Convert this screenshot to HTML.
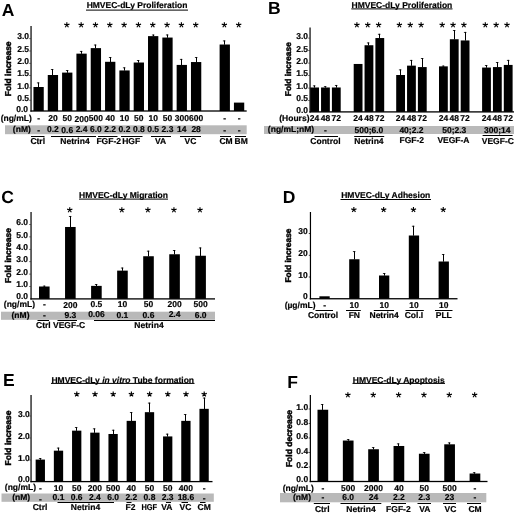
<!DOCTYPE html>
<html>
<head>
<meta charset="utf-8">
<title>HMVEC-dLy figure</title>
<style>
html,body{margin:0;padding:0;background:#fff;}
body{width:520px;height:514px;overflow:hidden;}
svg{display:block;filter:grayscale(1) blur(0.35px);text-rendering:geometricPrecision;font-family:"Liberation Sans",sans-serif;fill:#000;}
</style>
</head>
<body>
<svg width="520" height="514" viewBox="0 0 520 514">
<rect x="0" y="0" width="520" height="514" fill="#fff"/>
<text x="1.76" y="15.90" font-size="17.5" font-weight="bold">A</text>
<text x="137.00" y="8.42" font-size="8.5" text-anchor="middle" font-weight="bold" stroke="#000" stroke-width="0.18" >HMVEC-dLy Proliferation</text>
<rect x="86.00" y="9.60" width="102.00" height="1.00" fill="#000"/>
<rect x="30.45" y="26.00" width="1.20" height="85.65" fill="#000"/>
<rect x="30.35" y="110.35" width="216.35" height="1.30" fill="#000"/>
<rect x="29.40" y="38.30" width="1.10" height="0.80" fill="#000"/>
<rect x="29.40" y="50.60" width="1.10" height="0.80" fill="#000"/>
<rect x="29.40" y="62.90" width="1.10" height="0.80" fill="#000"/>
<rect x="29.40" y="75.20" width="1.10" height="0.80" fill="#000"/>
<rect x="29.40" y="87.50" width="1.10" height="0.80" fill="#000"/>
<rect x="29.40" y="99.80" width="1.10" height="0.80" fill="#000"/>
<text x="28.00" y="112.22" font-size="8.5" text-anchor="end" font-weight="bold" stroke="#000" stroke-width="0.18" >0.0</text>
<text x="29.00" y="100.92" font-size="8.5" text-anchor="end" font-weight="bold" stroke="#000" stroke-width="0.18" >0.5</text>
<text x="29.00" y="88.62" font-size="8.5" text-anchor="end" font-weight="bold" stroke="#000" stroke-width="0.18" >1.0</text>
<text x="29.00" y="76.32" font-size="8.5" text-anchor="end" font-weight="bold" stroke="#000" stroke-width="0.18" >1.5</text>
<text x="29.00" y="64.02" font-size="8.5" text-anchor="end" font-weight="bold" stroke="#000" stroke-width="0.18" >2.0</text>
<text x="29.00" y="51.72" font-size="8.5" text-anchor="end" font-weight="bold" stroke="#000" stroke-width="0.18" >2.5</text>
<text x="29.00" y="39.42" font-size="8.5" text-anchor="end" font-weight="bold" stroke="#000" stroke-width="0.18" >3.0</text>
<text transform="translate(11.06,68.80) rotate(-90)" font-size="8.5" text-anchor="middle" font-weight="bold" stroke="#000" stroke-width="0.45">Fold increase</text>
<rect x="5.00" y="125.30" width="241.70" height="8.90" fill="#b9b9b9"/>
<text x="31.80" y="121.42" font-size="8.5" text-anchor="end" font-weight="bold" stroke="#000" stroke-width="0.18" >(ng/mL)</text>
<text x="30.80" y="132.42" font-size="8.5" text-anchor="end" font-weight="bold" stroke="#000" stroke-width="0.18" >(nM)</text>
<rect x="33.45" y="87.00" width="10.30" height="24.00" fill="#000"/>
<rect x="38.00" y="82.50" width="1.00" height="4.70" fill="#000"/>
<rect x="36.90" y="82.50" width="2.50" height="0.80" fill="#000"/>
<text x="38.60" y="121.42" font-size="8.5" text-anchor="middle" font-weight="bold" stroke="#000" stroke-width="0.18" >-</text>
<text x="38.60" y="133.22" font-size="8.5" text-anchor="middle" font-weight="bold" stroke="#000" stroke-width="0.18" >-</text>
<rect x="47.77" y="75.00" width="10.30" height="36.00" fill="#000"/>
<rect x="52.00" y="69.00" width="1.00" height="6.20" fill="#000"/>
<rect x="50.90" y="69.00" width="2.50" height="0.80" fill="#000"/>
<text x="52.92" y="121.42" font-size="8.5" text-anchor="middle" font-weight="bold" stroke="#000" stroke-width="0.18" >20</text>
<text x="52.92" y="132.42" font-size="8.5" text-anchor="middle" font-weight="bold" stroke="#000" stroke-width="0.18" >0.2</text>
<rect x="62.09" y="72.60" width="10.30" height="38.40" fill="#000"/>
<rect x="67.00" y="70.10" width="1.00" height="2.70" fill="#000"/>
<rect x="65.90" y="70.10" width="2.50" height="0.80" fill="#000"/>
<path d="M66.84 25.00L66.84 22.25M66.84 25.00L69.46 24.15M66.84 25.00L68.46 27.22M66.84 25.00L65.22 27.22M66.84 25.00L64.22 24.15" stroke="#000" stroke-width="1.15" fill="none"/>
<text x="67.24" y="121.42" font-size="8.5" text-anchor="middle" font-weight="bold" stroke="#000" stroke-width="0.18" >50</text>
<text x="67.24" y="133.22" font-size="8.5" text-anchor="middle" font-weight="bold" stroke="#000" stroke-width="0.18" >0.6</text>
<rect x="76.41" y="53.64" width="10.30" height="57.36" fill="#000"/>
<rect x="81.00" y="50.94" width="1.00" height="2.90" fill="#000"/>
<rect x="79.90" y="50.94" width="2.50" height="0.80" fill="#000"/>
<path d="M81.16 25.00L81.16 22.25M81.16 25.00L83.78 24.15M81.16 25.00L82.78 27.22M81.16 25.00L79.54 27.22M81.16 25.00L78.54 24.15" stroke="#000" stroke-width="1.15" fill="none"/>
<text x="81.56" y="122.42" font-size="8.5" text-anchor="middle" font-weight="bold" stroke="#000" stroke-width="0.18" >200</text>
<text x="81.56" y="132.42" font-size="8.5" text-anchor="middle" font-weight="bold" stroke="#000" stroke-width="0.18" >2.4</text>
<rect x="90.73" y="48.12" width="10.30" height="62.88" fill="#000"/>
<rect x="95.00" y="44.62" width="1.00" height="3.70" fill="#000"/>
<rect x="93.90" y="44.62" width="2.50" height="0.80" fill="#000"/>
<path d="M95.48 25.00L95.48 22.25M95.48 25.00L98.10 24.15M95.48 25.00L97.10 27.22M95.48 25.00L93.86 27.22M95.48 25.00L92.86 24.15" stroke="#000" stroke-width="1.15" fill="none"/>
<text x="95.88" y="121.42" font-size="8.5" text-anchor="middle" font-weight="bold" stroke="#000" stroke-width="0.18" >500</text>
<text x="95.88" y="132.42" font-size="8.5" text-anchor="middle" font-weight="bold" stroke="#000" stroke-width="0.18" >6.0</text>
<rect x="105.05" y="61.80" width="10.30" height="49.20" fill="#000"/>
<rect x="110.00" y="57.10" width="1.00" height="4.90" fill="#000"/>
<rect x="108.90" y="57.10" width="2.50" height="0.80" fill="#000"/>
<path d="M109.80 25.00L109.80 22.25M109.80 25.00L112.42 24.15M109.80 25.00L111.42 27.22M109.80 25.00L108.18 27.22M109.80 25.00L107.18 24.15" stroke="#000" stroke-width="1.15" fill="none"/>
<text x="110.20" y="121.42" font-size="8.5" text-anchor="middle" font-weight="bold" stroke="#000" stroke-width="0.18" >40</text>
<text x="110.20" y="132.42" font-size="8.5" text-anchor="middle" font-weight="bold" stroke="#000" stroke-width="0.18" >2.2</text>
<rect x="119.37" y="70.44" width="10.30" height="40.56" fill="#000"/>
<rect x="124.00" y="67.44" width="1.00" height="3.20" fill="#000"/>
<rect x="122.90" y="67.44" width="2.50" height="0.80" fill="#000"/>
<path d="M124.12 25.00L124.12 22.25M124.12 25.00L126.74 24.15M124.12 25.00L125.74 27.22M124.12 25.00L122.50 27.22M124.12 25.00L121.50 24.15" stroke="#000" stroke-width="1.15" fill="none"/>
<text x="124.52" y="121.42" font-size="8.5" text-anchor="middle" font-weight="bold" stroke="#000" stroke-width="0.18" >10</text>
<text x="124.52" y="132.42" font-size="8.5" text-anchor="middle" font-weight="bold" stroke="#000" stroke-width="0.18" >0.2</text>
<rect x="133.69" y="62.52" width="10.30" height="48.48" fill="#000"/>
<rect x="138.00" y="60.02" width="1.00" height="2.70" fill="#000"/>
<rect x="136.90" y="60.02" width="2.50" height="0.80" fill="#000"/>
<path d="M138.44 25.00L138.44 22.25M138.44 25.00L141.06 24.15M138.44 25.00L140.06 27.22M138.44 25.00L136.82 27.22M138.44 25.00L135.82 24.15" stroke="#000" stroke-width="1.15" fill="none"/>
<text x="138.84" y="121.42" font-size="8.5" text-anchor="middle" font-weight="bold" stroke="#000" stroke-width="0.18" >50</text>
<text x="138.84" y="132.42" font-size="8.5" text-anchor="middle" font-weight="bold" stroke="#000" stroke-width="0.18" >0.8</text>
<rect x="148.01" y="36.12" width="10.30" height="74.88" fill="#000"/>
<rect x="153.00" y="34.62" width="1.00" height="1.70" fill="#000"/>
<rect x="151.90" y="34.62" width="2.50" height="0.80" fill="#000"/>
<path d="M152.76 25.00L152.76 22.25M152.76 25.00L155.38 24.15M152.76 25.00L154.38 27.22M152.76 25.00L151.14 27.22M152.76 25.00L150.14 24.15" stroke="#000" stroke-width="1.15" fill="none"/>
<text x="153.16" y="121.42" font-size="8.5" text-anchor="middle" font-weight="bold" stroke="#000" stroke-width="0.18" >10</text>
<text x="153.16" y="132.42" font-size="8.5" text-anchor="middle" font-weight="bold" stroke="#000" stroke-width="0.18" >0.5</text>
<rect x="162.33" y="37.56" width="10.30" height="73.44" fill="#000"/>
<rect x="167.00" y="34.56" width="1.00" height="3.20" fill="#000"/>
<rect x="165.90" y="34.56" width="2.50" height="0.80" fill="#000"/>
<path d="M167.08 25.00L167.08 22.25M167.08 25.00L169.70 24.15M167.08 25.00L168.70 27.22M167.08 25.00L165.46 27.22M167.08 25.00L164.46 24.15" stroke="#000" stroke-width="1.15" fill="none"/>
<text x="167.48" y="121.42" font-size="8.5" text-anchor="middle" font-weight="bold" stroke="#000" stroke-width="0.18" >50</text>
<text x="167.48" y="132.42" font-size="8.5" text-anchor="middle" font-weight="bold" stroke="#000" stroke-width="0.18" >2.3</text>
<rect x="176.65" y="64.92" width="10.30" height="46.08" fill="#000"/>
<rect x="181.00" y="58.92" width="1.00" height="6.20" fill="#000"/>
<rect x="179.90" y="58.92" width="2.50" height="0.80" fill="#000"/>
<path d="M181.40 25.00L181.40 22.25M181.40 25.00L184.02 24.15M181.40 25.00L183.02 27.22M181.40 25.00L179.78 27.22M181.40 25.00L178.78 24.15" stroke="#000" stroke-width="1.15" fill="none"/>
<text x="181.80" y="121.42" font-size="8.5" text-anchor="middle" font-weight="bold" stroke="#000" stroke-width="0.18" >300</text>
<text x="181.80" y="132.42" font-size="8.5" text-anchor="middle" font-weight="bold" stroke="#000" stroke-width="0.18" >14</text>
<rect x="190.97" y="62.04" width="10.30" height="48.96" fill="#000"/>
<rect x="196.00" y="57.04" width="1.00" height="5.20" fill="#000"/>
<rect x="194.90" y="57.04" width="2.50" height="0.80" fill="#000"/>
<path d="M195.72 25.00L195.72 22.25M195.72 25.00L198.34 24.15M195.72 25.00L197.34 27.22M195.72 25.00L194.10 27.22M195.72 25.00L193.10 24.15" stroke="#000" stroke-width="1.15" fill="none"/>
<text x="196.12" y="121.42" font-size="8.5" text-anchor="middle" font-weight="bold" stroke="#000" stroke-width="0.18" >600</text>
<text x="196.12" y="132.42" font-size="8.5" text-anchor="middle" font-weight="bold" stroke="#000" stroke-width="0.18" >28</text>
<rect x="219.61" y="44.52" width="10.30" height="66.48" fill="#000"/>
<rect x="224.00" y="40.52" width="1.00" height="4.20" fill="#000"/>
<rect x="222.90" y="40.52" width="2.50" height="0.80" fill="#000"/>
<path d="M224.36 25.00L224.36 22.25M224.36 25.00L226.98 24.15M224.36 25.00L225.98 27.22M224.36 25.00L222.74 27.22M224.36 25.00L221.74 24.15" stroke="#000" stroke-width="1.15" fill="none"/>
<text x="224.76" y="121.42" font-size="8.5" text-anchor="middle" font-weight="bold" stroke="#000" stroke-width="0.18" >-</text>
<text x="224.76" y="133.22" font-size="8.5" text-anchor="middle" font-weight="bold" stroke="#000" stroke-width="0.18" >-</text>
<rect x="233.93" y="102.60" width="10.30" height="8.40" fill="#000"/>
<path d="M238.68 25.00L238.68 22.25M238.68 25.00L241.30 24.15M238.68 25.00L240.30 27.22M238.68 25.00L237.06 27.22M238.68 25.00L236.06 24.15" stroke="#000" stroke-width="1.15" fill="none"/>
<text x="239.08" y="121.42" font-size="8.5" text-anchor="middle" font-weight="bold" stroke="#000" stroke-width="0.18" >-</text>
<text x="239.08" y="133.22" font-size="8.5" text-anchor="middle" font-weight="bold" stroke="#000" stroke-width="0.18" >-</text>
<rect x="31.00" y="136.00" width="13.50" height="1.00" fill="#000"/>
<text x="37.70" y="144.42" font-size="8.5" text-anchor="middle" font-weight="bold" stroke="#000" stroke-width="0.18" >Ctrl</text>
<rect x="51.00" y="136.00" width="45.00" height="1.00" fill="#000"/>
<text x="75.00" y="144.42" font-size="8.5" text-anchor="middle" font-weight="bold" stroke="#000" stroke-width="0.18" >Netrin4</text>
<rect x="98.00" y="136.00" width="19.50" height="1.00" fill="#000"/>
<text x="108.70" y="144.42" font-size="8.5" text-anchor="middle" font-weight="bold" stroke="#000" stroke-width="0.18" >FGF-2</text>
<rect x="121.00" y="136.00" width="21.50" height="1.00" fill="#000"/>
<text x="131.20" y="144.42" font-size="8.5" text-anchor="middle" font-weight="bold" stroke="#000" stroke-width="0.18" >HGF</text>
<rect x="151.00" y="136.00" width="20.00" height="1.00" fill="#000"/>
<text x="160.50" y="144.42" font-size="8.5" text-anchor="middle" font-weight="bold" stroke="#000" stroke-width="0.18" >VA</text>
<rect x="180.00" y="136.00" width="21.00" height="1.00" fill="#000"/>
<text x="190.50" y="144.42" font-size="8.5" text-anchor="middle" font-weight="bold" stroke="#000" stroke-width="0.18" >VC</text>
<rect x="220.00" y="136.00" width="11.00" height="1.00" fill="#000"/>
<text x="226.00" y="144.42" font-size="8.5" text-anchor="middle" font-weight="bold" stroke="#000" stroke-width="0.18" >CM</text>
<rect x="235.00" y="136.00" width="11.00" height="1.00" fill="#000"/>
<text x="241.20" y="144.42" font-size="8.5" text-anchor="middle" font-weight="bold" stroke="#000" stroke-width="0.18" >BM</text>
<text x="267.90" y="13.90" font-size="17.5" font-weight="bold">B</text>
<text x="401.90" y="7.92" font-size="8.5" text-anchor="middle" font-weight="bold" stroke="#000" stroke-width="0.18" >HMVEC-dLy Proliferation</text>
<rect x="351.30" y="8.40" width="101.20" height="1.00" fill="#000"/>
<rect x="309.45" y="27.50" width="1.20" height="85.05" fill="#000"/>
<rect x="309.35" y="111.25" width="204.65" height="1.30" fill="#000"/>
<rect x="308.40" y="37.70" width="1.10" height="0.80" fill="#000"/>
<rect x="308.40" y="50.20" width="1.10" height="0.80" fill="#000"/>
<rect x="308.40" y="62.70" width="1.10" height="0.80" fill="#000"/>
<rect x="308.40" y="75.20" width="1.10" height="0.80" fill="#000"/>
<rect x="308.40" y="87.70" width="1.10" height="0.80" fill="#000"/>
<rect x="308.40" y="100.20" width="1.10" height="0.80" fill="#000"/>
<text x="308.00" y="113.22" font-size="8.5" text-anchor="end" font-weight="bold" stroke="#000" stroke-width="0.18" >0.0</text>
<text x="308.00" y="100.90" font-size="8.5" text-anchor="end" font-weight="bold" stroke="#000" stroke-width="0.18" >0.5</text>
<text x="308.00" y="88.57" font-size="8.5" text-anchor="end" font-weight="bold" stroke="#000" stroke-width="0.18" >1.0</text>
<text x="308.00" y="76.25" font-size="8.5" text-anchor="end" font-weight="bold" stroke="#000" stroke-width="0.18" >1.5</text>
<text x="308.00" y="63.92" font-size="8.5" text-anchor="end" font-weight="bold" stroke="#000" stroke-width="0.18" >2.0</text>
<text x="308.00" y="51.60" font-size="8.5" text-anchor="end" font-weight="bold" stroke="#000" stroke-width="0.18" >2.5</text>
<text x="308.00" y="39.27" font-size="8.5" text-anchor="end" font-weight="bold" stroke="#000" stroke-width="0.18" >3.0</text>
<text transform="translate(291.32,69.20) rotate(-90)" font-size="8.4" text-anchor="middle" font-weight="bold" stroke="#000" stroke-width="0.45">Fold increase</text>
<rect x="264.00" y="126.00" width="250.00" height="8.00" fill="#b9b9b9"/>
<text x="309.50" y="120.92" font-size="8.5" text-anchor="end" font-weight="bold" stroke="#000" stroke-width="0.18" >(Hours)</text>
<text x="291.00" y="132.22" font-size="8.5" text-anchor="middle" font-weight="bold" stroke="#000" stroke-width="0.18" >(ng/mL;nM)</text>
<rect x="310.20" y="87.48" width="8.80" height="24.42" fill="#000"/>
<rect x="314.00" y="85.48" width="1.00" height="2.20" fill="#000"/>
<rect x="312.90" y="85.48" width="2.50" height="0.80" fill="#000"/>
<text x="314.60" y="120.92" font-size="8.5" text-anchor="middle" font-weight="bold" stroke="#000" stroke-width="0.18" >24</text>
<rect x="321.05" y="87.48" width="8.80" height="24.42" fill="#000"/>
<rect x="325.00" y="86.28" width="1.00" height="1.40" fill="#000"/>
<rect x="323.90" y="86.28" width="2.50" height="0.80" fill="#000"/>
<text x="325.45" y="120.92" font-size="8.5" text-anchor="middle" font-weight="bold" stroke="#000" stroke-width="0.18" >48</text>
<rect x="331.90" y="87.48" width="8.80" height="24.42" fill="#000"/>
<rect x="336.00" y="84.98" width="1.00" height="2.70" fill="#000"/>
<rect x="334.90" y="84.98" width="2.50" height="0.80" fill="#000"/>
<text x="336.30" y="120.92" font-size="8.5" text-anchor="middle" font-weight="bold" stroke="#000" stroke-width="0.18" >72</text>
<text x="325.45" y="132.52" font-size="8.5" text-anchor="middle" font-weight="bold" stroke="#000" stroke-width="0.18" >-</text>
<rect x="314.50" y="136.00" width="23.50" height="1.00" fill="#000"/>
<text x="325.45" y="143.82" font-size="8.5" text-anchor="middle" font-weight="bold" stroke="#000" stroke-width="0.18" >Control</text>
<rect x="353.70" y="63.96" width="8.80" height="47.94" fill="#000"/>
<path d="M356.90 25.00L356.90 22.25M356.90 25.00L359.52 24.15M356.90 25.00L358.52 27.22M356.90 25.00L355.28 27.22M356.90 25.00L354.28 24.15" stroke="#000" stroke-width="1.15" fill="none"/>
<text x="358.10" y="120.92" font-size="8.5" text-anchor="middle" font-weight="bold" stroke="#000" stroke-width="0.18" >24</text>
<rect x="364.55" y="45.24" width="8.80" height="66.66" fill="#000"/>
<rect x="368.00" y="42.54" width="1.00" height="2.90" fill="#000"/>
<rect x="366.90" y="42.54" width="2.50" height="0.80" fill="#000"/>
<path d="M367.75 25.00L367.75 22.25M367.75 25.00L370.37 24.15M367.75 25.00L369.37 27.22M367.75 25.00L366.13 27.22M367.75 25.00L365.13 24.15" stroke="#000" stroke-width="1.15" fill="none"/>
<text x="368.95" y="120.92" font-size="8.5" text-anchor="middle" font-weight="bold" stroke="#000" stroke-width="0.18" >48</text>
<rect x="375.40" y="38.04" width="8.80" height="73.86" fill="#000"/>
<rect x="379.00" y="33.84" width="1.00" height="4.40" fill="#000"/>
<rect x="377.90" y="33.84" width="2.50" height="0.80" fill="#000"/>
<path d="M378.60 25.00L378.60 22.25M378.60 25.00L381.22 24.15M378.60 25.00L380.22 27.22M378.60 25.00L376.98 27.22M378.60 25.00L375.98 24.15" stroke="#000" stroke-width="1.15" fill="none"/>
<text x="379.80" y="120.92" font-size="8.5" text-anchor="middle" font-weight="bold" stroke="#000" stroke-width="0.18" >72</text>
<text x="368.95" y="132.52" font-size="8.5" text-anchor="middle" font-weight="bold" stroke="#000" stroke-width="0.18" >500;6.0</text>
<rect x="354.20" y="136.00" width="30.00" height="1.00" fill="#000"/>
<text x="368.95" y="143.82" font-size="8.5" text-anchor="middle" font-weight="bold" stroke="#000" stroke-width="0.18" >Netrin4</text>
<rect x="396.20" y="75.00" width="8.80" height="36.90" fill="#000"/>
<rect x="400.00" y="69.50" width="1.00" height="5.70" fill="#000"/>
<rect x="398.90" y="69.50" width="2.50" height="0.80" fill="#000"/>
<path d="M399.40 25.00L399.40 22.25M399.40 25.00L402.02 24.15M399.40 25.00L401.02 27.22M399.40 25.00L397.78 27.22M399.40 25.00L396.78 24.15" stroke="#000" stroke-width="1.15" fill="none"/>
<text x="400.60" y="120.92" font-size="8.5" text-anchor="middle" font-weight="bold" stroke="#000" stroke-width="0.18" >24</text>
<rect x="407.05" y="65.64" width="8.80" height="46.26" fill="#000"/>
<rect x="411.00" y="59.94" width="1.00" height="5.90" fill="#000"/>
<rect x="409.90" y="59.94" width="2.50" height="0.80" fill="#000"/>
<path d="M410.25 25.00L410.25 22.25M410.25 25.00L412.87 24.15M410.25 25.00L411.87 27.22M410.25 25.00L408.63 27.22M410.25 25.00L407.63 24.15" stroke="#000" stroke-width="1.15" fill="none"/>
<text x="411.45" y="120.92" font-size="8.5" text-anchor="middle" font-weight="bold" stroke="#000" stroke-width="0.18" >48</text>
<rect x="417.90" y="67.08" width="8.80" height="44.82" fill="#000"/>
<rect x="422.00" y="58.08" width="1.00" height="9.20" fill="#000"/>
<rect x="420.90" y="58.08" width="2.50" height="0.80" fill="#000"/>
<path d="M421.10 25.00L421.10 22.25M421.10 25.00L423.72 24.15M421.10 25.00L422.72 27.22M421.10 25.00L419.48 27.22M421.10 25.00L418.48 24.15" stroke="#000" stroke-width="1.15" fill="none"/>
<text x="422.30" y="120.92" font-size="8.5" text-anchor="middle" font-weight="bold" stroke="#000" stroke-width="0.18" >72</text>
<text x="411.45" y="132.52" font-size="8.5" text-anchor="middle" font-weight="bold" stroke="#000" stroke-width="0.18" >40;2.2</text>
<text x="411.75" y="142.92" font-size="8.5" text-anchor="middle" font-weight="bold" stroke="#000" stroke-width="0.18" >FGF-2</text>
<rect x="439.00" y="66.36" width="8.80" height="45.54" fill="#000"/>
<rect x="443.00" y="65.66" width="1.00" height="0.90" fill="#000"/>
<rect x="441.90" y="65.66" width="2.50" height="0.80" fill="#000"/>
<path d="M442.20 25.00L442.20 22.25M442.20 25.00L444.82 24.15M442.20 25.00L443.82 27.22M442.20 25.00L440.58 27.22M442.20 25.00L439.58 24.15" stroke="#000" stroke-width="1.15" fill="none"/>
<text x="443.40" y="120.92" font-size="8.5" text-anchor="middle" font-weight="bold" stroke="#000" stroke-width="0.18" >24</text>
<rect x="449.85" y="39.24" width="8.80" height="72.66" fill="#000"/>
<rect x="454.00" y="30.04" width="1.00" height="9.40" fill="#000"/>
<rect x="452.90" y="30.04" width="2.50" height="0.80" fill="#000"/>
<path d="M453.05 25.00L453.05 22.25M453.05 25.00L455.67 24.15M453.05 25.00L454.67 27.22M453.05 25.00L451.43 27.22M453.05 25.00L450.43 24.15" stroke="#000" stroke-width="1.15" fill="none"/>
<text x="454.25" y="120.92" font-size="8.5" text-anchor="middle" font-weight="bold" stroke="#000" stroke-width="0.18" >48</text>
<rect x="460.70" y="40.44" width="8.80" height="71.46" fill="#000"/>
<rect x="465.00" y="31.94" width="1.00" height="8.70" fill="#000"/>
<rect x="463.90" y="31.94" width="2.50" height="0.80" fill="#000"/>
<path d="M463.90 25.00L463.90 22.25M463.90 25.00L466.52 24.15M463.90 25.00L465.52 27.22M463.90 25.00L462.28 27.22M463.90 25.00L461.28 24.15" stroke="#000" stroke-width="1.15" fill="none"/>
<text x="465.10" y="120.92" font-size="8.5" text-anchor="middle" font-weight="bold" stroke="#000" stroke-width="0.18" >72</text>
<text x="454.25" y="132.52" font-size="8.5" text-anchor="middle" font-weight="bold" stroke="#000" stroke-width="0.18" >50;2.3</text>
<text x="453.45" y="142.92" font-size="8.5" text-anchor="middle" font-weight="bold" stroke="#000" stroke-width="0.18" >VEGF-A</text>
<rect x="482.10" y="67.56" width="8.80" height="44.34" fill="#000"/>
<rect x="486.00" y="65.06" width="1.00" height="2.70" fill="#000"/>
<rect x="484.90" y="65.06" width="2.50" height="0.80" fill="#000"/>
<path d="M485.30 25.00L485.30 22.25M485.30 25.00L487.92 24.15M485.30 25.00L486.92 27.22M485.30 25.00L483.68 27.22M485.30 25.00L482.68 24.15" stroke="#000" stroke-width="1.15" fill="none"/>
<text x="486.50" y="120.92" font-size="8.5" text-anchor="middle" font-weight="bold" stroke="#000" stroke-width="0.18" >24</text>
<rect x="492.95" y="67.08" width="8.80" height="44.82" fill="#000"/>
<rect x="497.00" y="62.08" width="1.00" height="5.20" fill="#000"/>
<rect x="495.90" y="62.08" width="2.50" height="0.80" fill="#000"/>
<path d="M496.15 25.00L496.15 22.25M496.15 25.00L498.77 24.15M496.15 25.00L497.77 27.22M496.15 25.00L494.53 27.22M496.15 25.00L493.53 24.15" stroke="#000" stroke-width="1.15" fill="none"/>
<text x="497.35" y="120.92" font-size="8.5" text-anchor="middle" font-weight="bold" stroke="#000" stroke-width="0.18" >48</text>
<rect x="503.80" y="64.92" width="8.80" height="46.98" fill="#000"/>
<rect x="508.00" y="59.92" width="1.00" height="5.20" fill="#000"/>
<rect x="506.90" y="59.92" width="2.50" height="0.80" fill="#000"/>
<path d="M507.00 25.00L507.00 22.25M507.00 25.00L509.62 24.15M507.00 25.00L508.62 27.22M507.00 25.00L505.38 27.22M507.00 25.00L504.38 24.15" stroke="#000" stroke-width="1.15" fill="none"/>
<text x="508.20" y="120.92" font-size="8.5" text-anchor="middle" font-weight="bold" stroke="#000" stroke-width="0.18" >72</text>
<text x="497.35" y="132.52" font-size="8.5" text-anchor="middle" font-weight="bold" stroke="#000" stroke-width="0.18" >300;14</text>
<rect x="482.60" y="135.00" width="30.00" height="1.00" fill="#000"/>
<text x="497.85" y="144.12" font-size="8.5" text-anchor="middle" font-weight="bold" stroke="#000" stroke-width="0.18" >VEGF-C</text>
<text x="1.28" y="203.30" font-size="17.5" font-weight="bold">C</text>
<text x="123.50" y="198.22" font-size="8.5" text-anchor="middle" font-weight="bold" stroke="#000" stroke-width="0.18" >HMVEC-dLy Migration</text>
<rect x="79.00" y="198.60" width="89.00" height="1.00" fill="#000"/>
<rect x="30.45" y="212.00" width="1.20" height="87.55" fill="#000"/>
<rect x="30.35" y="298.25" width="184.65" height="1.30" fill="#000"/>
<rect x="29.40" y="286.10" width="1.10" height="0.80" fill="#000"/>
<rect x="29.40" y="273.70" width="1.10" height="0.80" fill="#000"/>
<rect x="29.40" y="261.30" width="1.10" height="0.80" fill="#000"/>
<rect x="29.40" y="248.90" width="1.10" height="0.80" fill="#000"/>
<rect x="29.40" y="236.50" width="1.10" height="0.80" fill="#000"/>
<rect x="29.40" y="224.10" width="1.10" height="0.80" fill="#000"/>
<text x="28.00" y="299.07" font-size="8.5" text-anchor="end" font-weight="bold" stroke="#000" stroke-width="0.18" >0.0</text>
<text x="28.00" y="287.22" font-size="8.5" text-anchor="end" font-weight="bold" stroke="#000" stroke-width="0.18" >1.0</text>
<text x="28.00" y="274.82" font-size="8.5" text-anchor="end" font-weight="bold" stroke="#000" stroke-width="0.18" >2.0</text>
<text x="28.00" y="262.42" font-size="8.5" text-anchor="end" font-weight="bold" stroke="#000" stroke-width="0.18" >3.0</text>
<text x="28.00" y="250.02" font-size="8.5" text-anchor="end" font-weight="bold" stroke="#000" stroke-width="0.18" >4.0</text>
<text x="28.00" y="237.62" font-size="8.5" text-anchor="end" font-weight="bold" stroke="#000" stroke-width="0.18" >5.0</text>
<text x="28.00" y="225.22" font-size="8.5" text-anchor="end" font-weight="bold" stroke="#000" stroke-width="0.18" >6.0</text>
<text transform="translate(11.06,255.50) rotate(-90)" font-size="8.5" text-anchor="middle" font-weight="bold" stroke="#000" stroke-width="0.45">Fold increase</text>
<rect x="1.00" y="311.70" width="214.00" height="8.10" fill="#b9b9b9"/>
<text x="35.00" y="307.42" font-size="8.5" text-anchor="end" font-weight="bold" stroke="#000" stroke-width="0.18" >(ng/mL)</text>
<text x="20.50" y="317.92" font-size="8.5" text-anchor="middle" font-weight="bold" stroke="#000" stroke-width="0.18" >(nM)</text>
<rect x="39.00" y="286.50" width="10.60" height="12.40" fill="#000"/>
<rect x="44.00" y="285.70" width="1.00" height="1.00" fill="#000"/>
<rect x="42.90" y="285.70" width="2.50" height="0.80" fill="#000"/>
<text x="44.30" y="307.42" font-size="8.5" text-anchor="middle" font-weight="bold" stroke="#000" stroke-width="0.18" >-</text>
<text x="44.30" y="317.92" font-size="8.5" text-anchor="middle" font-weight="bold" stroke="#000" stroke-width="0.18" >-</text>
<rect x="65.05" y="226.98" width="10.60" height="71.92" fill="#000"/>
<rect x="70.00" y="215.98" width="1.00" height="11.20" fill="#000"/>
<rect x="68.90" y="215.98" width="2.50" height="0.80" fill="#000"/>
<path d="M69.75 210.00L69.75 207.25M69.75 210.00L72.37 209.15M69.75 210.00L71.37 212.22M69.75 210.00L68.13 212.22M69.75 210.00L67.13 209.15" stroke="#000" stroke-width="1.15" fill="none"/>
<text x="70.35" y="308.42" font-size="8.5" text-anchor="middle" font-weight="bold" stroke="#000" stroke-width="0.18" >200</text>
<text x="70.35" y="317.92" font-size="8.5" text-anchor="middle" font-weight="bold" stroke="#000" stroke-width="0.18" >9.3</text>
<rect x="91.10" y="285.88" width="10.60" height="13.02" fill="#000"/>
<rect x="96.00" y="284.08" width="1.00" height="2.00" fill="#000"/>
<rect x="94.90" y="284.08" width="2.50" height="0.80" fill="#000"/>
<text x="96.40" y="307.42" font-size="8.5" text-anchor="middle" font-weight="bold" stroke="#000" stroke-width="0.18" >0.5</text>
<text x="96.40" y="317.12" font-size="8.5" text-anchor="middle" font-weight="bold" stroke="#000" stroke-width="0.18" >0.06</text>
<rect x="117.15" y="270.63" width="10.60" height="28.27" fill="#000"/>
<rect x="122.00" y="267.63" width="1.00" height="3.20" fill="#000"/>
<rect x="120.90" y="267.63" width="2.50" height="0.80" fill="#000"/>
<path d="M121.85 210.00L121.85 207.25M121.85 210.00L124.47 209.15M121.85 210.00L123.47 212.22M121.85 210.00L120.23 212.22M121.85 210.00L119.23 209.15" stroke="#000" stroke-width="1.15" fill="none"/>
<text x="122.45" y="307.42" font-size="8.5" text-anchor="middle" font-weight="bold" stroke="#000" stroke-width="0.18" >10</text>
<text x="122.45" y="317.92" font-size="8.5" text-anchor="middle" font-weight="bold" stroke="#000" stroke-width="0.18" >0.1</text>
<rect x="143.20" y="256.24" width="10.60" height="42.66" fill="#000"/>
<rect x="148.00" y="250.74" width="1.00" height="5.70" fill="#000"/>
<rect x="146.90" y="250.74" width="2.50" height="0.80" fill="#000"/>
<path d="M147.90 210.00L147.90 207.25M147.90 210.00L150.52 209.15M147.90 210.00L149.52 212.22M147.90 210.00L146.28 212.22M147.90 210.00L145.28 209.15" stroke="#000" stroke-width="1.15" fill="none"/>
<text x="148.50" y="307.42" font-size="8.5" text-anchor="middle" font-weight="bold" stroke="#000" stroke-width="0.18" >50</text>
<text x="148.50" y="317.92" font-size="8.5" text-anchor="middle" font-weight="bold" stroke="#000" stroke-width="0.18" >0.6</text>
<rect x="169.25" y="254.26" width="10.60" height="44.64" fill="#000"/>
<rect x="174.00" y="250.06" width="1.00" height="4.40" fill="#000"/>
<rect x="172.90" y="250.06" width="2.50" height="0.80" fill="#000"/>
<path d="M173.95 210.00L173.95 207.25M173.95 210.00L176.57 209.15M173.95 210.00L175.57 212.22M173.95 210.00L172.33 212.22M173.95 210.00L171.33 209.15" stroke="#000" stroke-width="1.15" fill="none"/>
<text x="174.55" y="307.42" font-size="8.5" text-anchor="middle" font-weight="bold" stroke="#000" stroke-width="0.18" >200</text>
<text x="174.55" y="317.12" font-size="8.5" text-anchor="middle" font-weight="bold" stroke="#000" stroke-width="0.18" >2.4</text>
<rect x="195.30" y="255.75" width="10.60" height="43.15" fill="#000"/>
<rect x="200.00" y="247.55" width="1.00" height="8.40" fill="#000"/>
<rect x="198.90" y="247.55" width="2.50" height="0.80" fill="#000"/>
<path d="M200.00 210.00L200.00 207.25M200.00 210.00L202.62 209.15M200.00 210.00L201.62 212.22M200.00 210.00L198.38 212.22M200.00 210.00L197.38 209.15" stroke="#000" stroke-width="1.15" fill="none"/>
<text x="200.60" y="307.42" font-size="8.5" text-anchor="middle" font-weight="bold" stroke="#000" stroke-width="0.18" >500</text>
<text x="200.60" y="317.92" font-size="8.5" text-anchor="middle" font-weight="bold" stroke="#000" stroke-width="0.18" >6.0</text>
<rect x="37.50" y="320.00" width="11.50" height="1.00" fill="#000"/>
<rect x="57.50" y="320.00" width="19.50" height="1.00" fill="#000"/>
<rect x="94.00" y="320.00" width="121.00" height="1.00" fill="#000"/>
<text x="60.60" y="327.92" font-size="8.5" text-anchor="middle" font-weight="bold" stroke="#000" stroke-width="0.18" >Ctrl VEGF-C</text>
<text x="149.00" y="327.92" font-size="8.5" text-anchor="middle" font-weight="bold" stroke="#000" stroke-width="0.18" >Netrin4</text>
<text x="282.80" y="202.90" font-size="17.5" font-weight="bold">D</text>
<text x="385.75" y="198.22" font-size="8.5" text-anchor="middle" font-weight="bold" stroke="#000" stroke-width="0.18" >HMVEC-dLy Adhesion</text>
<rect x="340.50" y="199.00" width="90.50" height="1.00" fill="#000"/>
<rect x="309.85" y="212.00" width="1.20" height="87.40" fill="#000"/>
<rect x="309.75" y="298.10" width="147.75" height="1.30" fill="#000"/>
<rect x="308.80" y="276.60" width="1.10" height="0.80" fill="#000"/>
<rect x="308.80" y="254.85" width="1.10" height="0.80" fill="#000"/>
<rect x="308.80" y="233.10" width="1.10" height="0.80" fill="#000"/>
<text x="307.70" y="298.92" font-size="8.5" text-anchor="end" font-weight="bold" stroke="#000" stroke-width="0.18" >0</text>
<text x="307.70" y="277.92" font-size="8.5" text-anchor="end" font-weight="bold" stroke="#000" stroke-width="0.18" >10</text>
<text x="307.70" y="256.17" font-size="8.5" text-anchor="end" font-weight="bold" stroke="#000" stroke-width="0.18" >20</text>
<text x="307.70" y="234.42" font-size="8.5" text-anchor="end" font-weight="bold" stroke="#000" stroke-width="0.18" >30</text>
<text transform="translate(291.32,255.50) rotate(-90)" font-size="8.4" text-anchor="middle" font-weight="bold" stroke="#000" stroke-width="0.45">Fold increase</text>
<text x="315.50" y="307.72" font-size="8.5" text-anchor="end" font-weight="bold" stroke="#000" stroke-width="0.18" >(µg/mL)</text>
<rect x="319.40" y="296.30" width="10.30" height="2.45" fill="#000"/>
<text x="324.55" y="307.72" font-size="8.5" text-anchor="middle" font-weight="bold" stroke="#000" stroke-width="0.18" >-</text>
<rect x="315.50" y="310.00" width="17.50" height="1.00" fill="#000"/>
<text x="323.05" y="318.12" font-size="8.5" text-anchor="middle" font-weight="bold" stroke="#000" stroke-width="0.18" >Control</text>
<rect x="349.20" y="259.25" width="10.30" height="39.50" fill="#000"/>
<rect x="354.00" y="251.25" width="1.00" height="8.20" fill="#000"/>
<rect x="352.90" y="251.25" width="2.50" height="0.80" fill="#000"/>
<path d="M353.85 209.70L353.85 206.95M353.85 209.70L356.47 208.85M353.85 209.70L355.47 211.92M353.85 209.70L352.23 211.92M353.85 209.70L351.23 208.85" stroke="#000" stroke-width="1.15" fill="none"/>
<text x="354.35" y="307.72" font-size="8.5" text-anchor="middle" font-weight="bold" stroke="#000" stroke-width="0.18" >10</text>
<rect x="346.00" y="310.00" width="14.80" height="1.00" fill="#000"/>
<text x="354.35" y="318.12" font-size="8.5" text-anchor="middle" font-weight="bold" stroke="#000" stroke-width="0.18" >FN</text>
<rect x="379.00" y="275.50" width="10.30" height="23.25" fill="#000"/>
<rect x="384.00" y="273.00" width="1.00" height="2.70" fill="#000"/>
<rect x="382.90" y="273.00" width="2.50" height="0.80" fill="#000"/>
<path d="M383.65 209.70L383.65 206.95M383.65 209.70L386.27 208.85M383.65 209.70L385.27 211.92M383.65 209.70L382.03 211.92M383.65 209.70L381.03 208.85" stroke="#000" stroke-width="1.15" fill="none"/>
<text x="384.15" y="307.72" font-size="8.5" text-anchor="middle" font-weight="bold" stroke="#000" stroke-width="0.18" >10</text>
<rect x="373.80" y="310.00" width="20.20" height="1.00" fill="#000"/>
<text x="384.15" y="318.12" font-size="8.5" text-anchor="middle" font-weight="bold" stroke="#000" stroke-width="0.18" >Netrin4</text>
<rect x="408.80" y="235.50" width="10.30" height="63.25" fill="#000"/>
<rect x="413.00" y="225.80" width="1.00" height="9.90" fill="#000"/>
<rect x="411.90" y="225.80" width="2.50" height="0.80" fill="#000"/>
<path d="M413.45 209.70L413.45 206.95M413.45 209.70L416.07 208.85M413.45 209.70L415.07 211.92M413.45 209.70L411.83 211.92M413.45 209.70L410.83 208.85" stroke="#000" stroke-width="1.15" fill="none"/>
<text x="413.95" y="307.72" font-size="8.5" text-anchor="middle" font-weight="bold" stroke="#000" stroke-width="0.18" >10</text>
<rect x="405.50" y="310.00" width="18.30" height="1.00" fill="#000"/>
<text x="413.95" y="318.12" font-size="8.5" text-anchor="middle" font-weight="bold" stroke="#000" stroke-width="0.18" >Col.I</text>
<rect x="438.60" y="261.50" width="10.30" height="37.25" fill="#000"/>
<rect x="443.00" y="254.00" width="1.00" height="7.70" fill="#000"/>
<rect x="441.90" y="254.00" width="2.50" height="0.80" fill="#000"/>
<path d="M443.25 209.70L443.25 206.95M443.25 209.70L445.87 208.85M443.25 209.70L444.87 211.92M443.25 209.70L441.63 211.92M443.25 209.70L440.63 208.85" stroke="#000" stroke-width="1.15" fill="none"/>
<text x="443.75" y="307.72" font-size="8.5" text-anchor="middle" font-weight="bold" stroke="#000" stroke-width="0.18" >10</text>
<rect x="435.00" y="310.00" width="17.50" height="1.00" fill="#000"/>
<text x="443.75" y="318.12" font-size="8.5" text-anchor="middle" font-weight="bold" stroke="#000" stroke-width="0.18" >PLL</text>
<text x="2.90" y="386.20" font-size="17.5" font-weight="bold">E</text>
<text x="122.75" y="382.62" font-size="8.5" text-anchor="middle" font-weight="bold" stroke="#000" stroke-width="0.18" >HMVEC-dLy <tspan font-style="italic">in vitro</tspan> Tube formation</text>
<rect x="51.00" y="382.90" width="143.50" height="1.00" fill="#000"/>
<rect x="30.45" y="395.00" width="1.20" height="87.25" fill="#000"/>
<rect x="30.35" y="480.95" width="182.15" height="1.30" fill="#000"/>
<rect x="29.40" y="415.60" width="1.10" height="0.80" fill="#000"/>
<rect x="29.40" y="437.60" width="1.10" height="0.80" fill="#000"/>
<rect x="29.40" y="459.60" width="1.10" height="0.80" fill="#000"/>
<text x="29.80" y="482.32" font-size="8.5" text-anchor="end" font-weight="bold" stroke="#000" stroke-width="0.18" >0.0</text>
<text x="29.80" y="460.92" font-size="8.5" text-anchor="end" font-weight="bold" stroke="#000" stroke-width="0.18" >1.0</text>
<text x="29.80" y="438.92" font-size="8.5" text-anchor="end" font-weight="bold" stroke="#000" stroke-width="0.18" >2.0</text>
<text x="29.80" y="416.92" font-size="8.5" text-anchor="end" font-weight="bold" stroke="#000" stroke-width="0.18" >3.0</text>
<text transform="translate(11.06,438.00) rotate(-90)" font-size="8.5" text-anchor="middle" font-weight="bold" stroke="#000" stroke-width="0.45">Fold increase</text>
<rect x="1.50" y="493.50" width="212.30" height="8.30" fill="#b9b9b9"/>
<text x="36.00" y="490.42" font-size="8.5" text-anchor="end" font-weight="bold" stroke="#000" stroke-width="0.18" >(ng/mL)</text>
<text x="21.20" y="500.12" font-size="8.5" text-anchor="middle" font-weight="bold" stroke="#000" stroke-width="0.18" >(nM)</text>
<rect x="35.65" y="459.57" width="9.30" height="22.03" fill="#000"/>
<rect x="40.00" y="458.07" width="1.00" height="1.70" fill="#000"/>
<rect x="38.90" y="458.07" width="2.50" height="0.80" fill="#000"/>
<text x="40.30" y="490.52" font-size="8.5" text-anchor="middle" font-weight="bold" stroke="#000" stroke-width="0.18" >-</text>
<text x="40.30" y="501.62" font-size="8.5" text-anchor="middle" font-weight="bold" stroke="#000" stroke-width="0.18" >-</text>
<rect x="53.85" y="450.67" width="9.30" height="30.93" fill="#000"/>
<rect x="58.00" y="447.67" width="1.00" height="3.20" fill="#000"/>
<rect x="56.90" y="447.67" width="2.50" height="0.80" fill="#000"/>
<text x="58.50" y="490.52" font-size="8.5" text-anchor="middle" font-weight="bold" stroke="#000" stroke-width="0.18" >10</text>
<text x="58.50" y="500.12" font-size="8.5" text-anchor="middle" font-weight="bold" stroke="#000" stroke-width="0.18" >0.1</text>
<rect x="72.05" y="430.65" width="9.30" height="50.95" fill="#000"/>
<rect x="76.00" y="427.15" width="1.00" height="3.70" fill="#000"/>
<rect x="74.90" y="427.15" width="2.50" height="0.80" fill="#000"/>
<path d="M76.80 394.20L76.80 391.45M76.80 394.20L79.42 393.35M76.80 394.20L78.42 396.42M76.80 394.20L75.18 396.42M76.80 394.20L74.18 393.35" stroke="#000" stroke-width="1.15" fill="none"/>
<text x="76.70" y="490.52" font-size="8.5" text-anchor="middle" font-weight="bold" stroke="#000" stroke-width="0.18" >50</text>
<text x="76.70" y="500.12" font-size="8.5" text-anchor="middle" font-weight="bold" stroke="#000" stroke-width="0.18" >0.6</text>
<rect x="90.25" y="432.65" width="9.30" height="48.95" fill="#000"/>
<rect x="94.00" y="428.45" width="1.00" height="4.40" fill="#000"/>
<rect x="92.90" y="428.45" width="2.50" height="0.80" fill="#000"/>
<path d="M95.00 394.20L95.00 391.45M95.00 394.20L97.62 393.35M95.00 394.20L96.62 396.42M95.00 394.20L93.38 396.42M95.00 394.20L92.38 393.35" stroke="#000" stroke-width="1.15" fill="none"/>
<text x="94.90" y="490.52" font-size="8.5" text-anchor="middle" font-weight="bold" stroke="#000" stroke-width="0.18" >200</text>
<text x="94.90" y="500.12" font-size="8.5" text-anchor="middle" font-weight="bold" stroke="#000" stroke-width="0.18" >2.4</text>
<rect x="108.45" y="433.99" width="9.30" height="47.62" fill="#000"/>
<rect x="113.00" y="429.79" width="1.00" height="4.40" fill="#000"/>
<rect x="111.90" y="429.79" width="2.50" height="0.80" fill="#000"/>
<path d="M113.20 394.20L113.20 391.45M113.20 394.20L115.82 393.35M113.20 394.20L114.82 396.42M113.20 394.20L111.58 396.42M113.20 394.20L110.58 393.35" stroke="#000" stroke-width="1.15" fill="none"/>
<text x="113.10" y="490.52" font-size="8.5" text-anchor="middle" font-weight="bold" stroke="#000" stroke-width="0.18" >500</text>
<text x="113.10" y="500.12" font-size="8.5" text-anchor="middle" font-weight="bold" stroke="#000" stroke-width="0.18" >6.0</text>
<rect x="126.65" y="420.86" width="9.30" height="60.74" fill="#000"/>
<rect x="131.00" y="412.16" width="1.00" height="8.90" fill="#000"/>
<rect x="129.90" y="412.16" width="2.50" height="0.80" fill="#000"/>
<path d="M131.40 394.20L131.40 391.45M131.40 394.20L134.02 393.35M131.40 394.20L133.02 396.42M131.40 394.20L129.78 396.42M131.40 394.20L128.78 393.35" stroke="#000" stroke-width="1.15" fill="none"/>
<text x="131.30" y="490.52" font-size="8.5" text-anchor="middle" font-weight="bold" stroke="#000" stroke-width="0.18" >40</text>
<text x="131.30" y="500.12" font-size="8.5" text-anchor="middle" font-weight="bold" stroke="#000" stroke-width="0.18" >2.2</text>
<rect x="144.85" y="412.18" width="9.30" height="69.42" fill="#000"/>
<rect x="149.00" y="402.68" width="1.00" height="9.70" fill="#000"/>
<rect x="147.90" y="402.68" width="2.50" height="0.80" fill="#000"/>
<path d="M149.60 394.20L149.60 391.45M149.60 394.20L152.22 393.35M149.60 394.20L151.22 396.42M149.60 394.20L147.98 396.42M149.60 394.20L146.98 393.35" stroke="#000" stroke-width="1.15" fill="none"/>
<text x="149.50" y="490.52" font-size="8.5" text-anchor="middle" font-weight="bold" stroke="#000" stroke-width="0.18" >50</text>
<text x="149.50" y="500.12" font-size="8.5" text-anchor="middle" font-weight="bold" stroke="#000" stroke-width="0.18" >0.8</text>
<rect x="163.05" y="436.43" width="9.30" height="45.17" fill="#000"/>
<rect x="167.00" y="433.73" width="1.00" height="2.90" fill="#000"/>
<rect x="165.90" y="433.73" width="2.50" height="0.80" fill="#000"/>
<path d="M167.80 394.20L167.80 391.45M167.80 394.20L170.42 393.35M167.80 394.20L169.42 396.42M167.80 394.20L166.18 396.42M167.80 394.20L165.18 393.35" stroke="#000" stroke-width="1.15" fill="none"/>
<text x="167.70" y="490.52" font-size="8.5" text-anchor="middle" font-weight="bold" stroke="#000" stroke-width="0.18" >50</text>
<text x="167.70" y="500.12" font-size="8.5" text-anchor="middle" font-weight="bold" stroke="#000" stroke-width="0.18" >2.3</text>
<rect x="181.25" y="420.86" width="9.30" height="60.74" fill="#000"/>
<rect x="185.00" y="414.16" width="1.00" height="6.90" fill="#000"/>
<rect x="183.90" y="414.16" width="2.50" height="0.80" fill="#000"/>
<path d="M186.00 394.20L186.00 391.45M186.00 394.20L188.62 393.35M186.00 394.20L187.62 396.42M186.00 394.20L184.38 396.42M186.00 394.20L183.38 393.35" stroke="#000" stroke-width="1.15" fill="none"/>
<text x="185.90" y="490.52" font-size="8.5" text-anchor="middle" font-weight="bold" stroke="#000" stroke-width="0.18" >400</text>
<text x="185.90" y="500.12" font-size="8.5" text-anchor="middle" font-weight="bold" stroke="#000" stroke-width="0.18" >18.6</text>
<rect x="199.45" y="408.84" width="9.30" height="72.76" fill="#000"/>
<rect x="204.00" y="397.64" width="1.00" height="11.40" fill="#000"/>
<rect x="202.90" y="397.64" width="2.50" height="0.80" fill="#000"/>
<path d="M204.20 394.20L204.20 391.45M204.20 394.20L206.82 393.35M204.20 394.20L205.82 396.42M204.20 394.20L202.58 396.42M204.20 394.20L201.58 393.35" stroke="#000" stroke-width="1.15" fill="none"/>
<text x="204.10" y="490.52" font-size="8.5" text-anchor="middle" font-weight="bold" stroke="#000" stroke-width="0.18" >-</text>
<text x="204.10" y="500.62" font-size="8.5" text-anchor="middle" font-weight="bold" stroke="#000" stroke-width="0.18" >-</text>
<text x="40.00" y="510.22" font-size="8.5" text-anchor="middle" font-weight="bold" stroke="#000" stroke-width="0.18" >Ctrl</text>
<rect x="57.50" y="502.00" width="56.50" height="1.00" fill="#000"/>
<text x="85.50" y="510.22" font-size="8.5" text-anchor="middle" font-weight="bold" stroke="#000" stroke-width="0.18" >Netrin4</text>
<rect x="126.50" y="502.00" width="5.00" height="1.00" fill="#000"/>
<text x="130.50" y="510.22" font-size="8.5" text-anchor="middle" font-weight="bold" stroke="#000" stroke-width="0.18" >F2</text>
<text x="149.20" y="510.22" font-size="8.5" text-anchor="middle" font-weight="bold" stroke="#000" stroke-width="0.18" textLength="15.6" lengthAdjust="spacingAndGlyphs">HGF</text>
<rect x="166.00" y="502.00" width="5.00" height="1.00" fill="#000"/>
<text x="166.80" y="510.22" font-size="8.5" text-anchor="middle" font-weight="bold" stroke="#000" stroke-width="0.18" >VA</text>
<rect x="181.50" y="502.00" width="6.50" height="1.00" fill="#000"/>
<text x="185.50" y="510.22" font-size="8.5" text-anchor="middle" font-weight="bold" stroke="#000" stroke-width="0.18" >VC</text>
<rect x="200.00" y="502.00" width="5.50" height="1.00" fill="#000"/>
<text x="204.20" y="510.22" font-size="8.5" text-anchor="middle" font-weight="bold" stroke="#000" stroke-width="0.18" >CM</text>
<text x="287.20" y="387.50" font-size="17.5" font-weight="bold">F</text>
<text x="398.75" y="382.62" font-size="8.5" text-anchor="middle" font-weight="bold" stroke="#000" stroke-width="0.18" >HMVEC-dLy Apoptosis</text>
<rect x="352.50" y="382.90" width="92.50" height="1.00" fill="#000"/>
<rect x="309.75" y="395.00" width="1.20" height="87.15" fill="#000"/>
<rect x="309.65" y="480.85" width="177.85" height="1.30" fill="#000"/>
<rect x="308.70" y="466.60" width="1.10" height="0.80" fill="#000"/>
<rect x="308.70" y="452.10" width="1.10" height="0.80" fill="#000"/>
<rect x="308.70" y="437.60" width="1.10" height="0.80" fill="#000"/>
<rect x="308.70" y="423.10" width="1.10" height="0.80" fill="#000"/>
<rect x="308.70" y="408.60" width="1.10" height="0.80" fill="#000"/>
<text x="308.20" y="482.22" font-size="8.5" text-anchor="end" font-weight="bold" stroke="#000" stroke-width="0.18" >0.0</text>
<text x="308.20" y="468.32" font-size="8.5" text-anchor="end" font-weight="bold" stroke="#000" stroke-width="0.18" >0.2</text>
<text x="308.20" y="453.82" font-size="8.5" text-anchor="end" font-weight="bold" stroke="#000" stroke-width="0.18" >0.4</text>
<text x="308.20" y="439.32" font-size="8.5" text-anchor="end" font-weight="bold" stroke="#000" stroke-width="0.18" >0.6</text>
<text x="308.20" y="424.82" font-size="8.5" text-anchor="end" font-weight="bold" stroke="#000" stroke-width="0.18" >0.8</text>
<text x="308.20" y="410.32" font-size="8.5" text-anchor="end" font-weight="bold" stroke="#000" stroke-width="0.18" >1.0</text>
<text transform="translate(291.86,438.50) rotate(-90)" font-size="8.5" text-anchor="middle" font-weight="bold" stroke="#000" stroke-width="0.45">Fold decrease</text>
<rect x="280.00" y="493.00" width="206.30" height="9.30" fill="#b9b9b9"/>
<text x="313.80" y="490.92" font-size="8.5" text-anchor="end" font-weight="bold" stroke="#000" stroke-width="0.18" >(ng/mL)</text>
<text x="302.00" y="500.32" font-size="8.5" text-anchor="middle" font-weight="bold" stroke="#000" stroke-width="0.18" >(nM)</text>
<rect x="317.50" y="409.73" width="10.70" height="71.77" fill="#000"/>
<rect x="322.00" y="404.03" width="1.00" height="5.90" fill="#000"/>
<rect x="320.90" y="404.03" width="2.50" height="0.80" fill="#000"/>
<text x="322.85" y="490.92" font-size="8.5" text-anchor="middle" font-weight="bold" stroke="#000" stroke-width="0.18" >-</text>
<text x="322.85" y="500.32" font-size="8.5" text-anchor="middle" font-weight="bold" stroke="#000" stroke-width="0.18" >-</text>
<rect x="342.85" y="440.54" width="10.70" height="40.96" fill="#000"/>
<rect x="348.00" y="439.24" width="1.00" height="1.50" fill="#000"/>
<rect x="346.90" y="439.24" width="2.50" height="0.80" fill="#000"/>
<path d="M347.90 395.00L347.90 392.25M347.90 395.00L350.52 394.15M347.90 395.00L349.52 397.22M347.90 395.00L346.28 397.22M347.90 395.00L345.28 394.15" stroke="#000" stroke-width="1.15" fill="none"/>
<text x="348.20" y="490.92" font-size="8.5" text-anchor="middle" font-weight="bold" stroke="#000" stroke-width="0.18" >500</text>
<text x="348.20" y="500.32" font-size="8.5" text-anchor="middle" font-weight="bold" stroke="#000" stroke-width="0.18" >6.0</text>
<rect x="368.20" y="449.24" width="10.70" height="32.26" fill="#000"/>
<rect x="373.00" y="447.24" width="1.00" height="2.20" fill="#000"/>
<rect x="371.90" y="447.24" width="2.50" height="0.80" fill="#000"/>
<path d="M373.25 395.00L373.25 392.25M373.25 395.00L375.87 394.15M373.25 395.00L374.87 397.22M373.25 395.00L371.63 397.22M373.25 395.00L370.63 394.15" stroke="#000" stroke-width="1.15" fill="none"/>
<text x="373.55" y="490.92" font-size="8.5" text-anchor="middle" font-weight="bold" stroke="#000" stroke-width="0.18" >2000</text>
<text x="373.55" y="500.32" font-size="8.5" text-anchor="middle" font-weight="bold" stroke="#000" stroke-width="0.18" >24</text>
<rect x="393.55" y="445.98" width="10.70" height="35.52" fill="#000"/>
<rect x="398.00" y="443.48" width="1.00" height="2.70" fill="#000"/>
<rect x="396.90" y="443.48" width="2.50" height="0.80" fill="#000"/>
<path d="M398.60 395.00L398.60 392.25M398.60 395.00L401.22 394.15M398.60 395.00L400.22 397.22M398.60 395.00L396.98 397.22M398.60 395.00L395.98 394.15" stroke="#000" stroke-width="1.15" fill="none"/>
<text x="398.90" y="490.92" font-size="8.5" text-anchor="middle" font-weight="bold" stroke="#000" stroke-width="0.18" >40</text>
<text x="398.90" y="500.32" font-size="8.5" text-anchor="middle" font-weight="bold" stroke="#000" stroke-width="0.18" >2.2</text>
<rect x="418.90" y="453.73" width="10.70" height="27.77" fill="#000"/>
<rect x="424.00" y="452.23" width="1.00" height="1.70" fill="#000"/>
<rect x="422.90" y="452.23" width="2.50" height="0.80" fill="#000"/>
<path d="M423.95 395.00L423.95 392.25M423.95 395.00L426.57 394.15M423.95 395.00L425.57 397.22M423.95 395.00L422.33 397.22M423.95 395.00L421.33 394.15" stroke="#000" stroke-width="1.15" fill="none"/>
<text x="424.25" y="490.92" font-size="8.5" text-anchor="middle" font-weight="bold" stroke="#000" stroke-width="0.18" >50</text>
<text x="424.25" y="500.32" font-size="8.5" text-anchor="middle" font-weight="bold" stroke="#000" stroke-width="0.18" >2.3</text>
<rect x="444.25" y="444.31" width="10.70" height="37.19" fill="#000"/>
<rect x="449.00" y="442.51" width="1.00" height="2.00" fill="#000"/>
<rect x="447.90" y="442.51" width="2.50" height="0.80" fill="#000"/>
<path d="M449.30 395.00L449.30 392.25M449.30 395.00L451.92 394.15M449.30 395.00L450.92 397.22M449.30 395.00L447.68 397.22M449.30 395.00L446.68 394.15" stroke="#000" stroke-width="1.15" fill="none"/>
<text x="449.60" y="490.92" font-size="8.5" text-anchor="middle" font-weight="bold" stroke="#000" stroke-width="0.18" >500</text>
<text x="449.60" y="500.32" font-size="8.5" text-anchor="middle" font-weight="bold" stroke="#000" stroke-width="0.18" >23</text>
<rect x="469.60" y="473.52" width="10.70" height="7.98" fill="#000"/>
<rect x="474.00" y="472.32" width="1.00" height="1.40" fill="#000"/>
<rect x="472.90" y="472.32" width="2.50" height="0.80" fill="#000"/>
<path d="M474.65 395.00L474.65 392.25M474.65 395.00L477.27 394.15M474.65 395.00L476.27 397.22M474.65 395.00L473.03 397.22M474.65 395.00L472.03 394.15" stroke="#000" stroke-width="1.15" fill="none"/>
<text x="474.95" y="490.92" font-size="8.5" text-anchor="middle" font-weight="bold" stroke="#000" stroke-width="0.18" >-</text>
<text x="474.95" y="500.32" font-size="8.5" text-anchor="middle" font-weight="bold" stroke="#000" stroke-width="0.18" >-</text>
<rect x="313.80" y="503.00" width="16.20" height="1.00" fill="#000"/>
<text x="322.20" y="512.32" font-size="8.5" text-anchor="middle" font-weight="bold" stroke="#000" stroke-width="0.18" >Ctrl</text>
<rect x="340.50" y="503.00" width="40.80" height="1.00" fill="#000"/>
<text x="361.00" y="512.32" font-size="8.5" text-anchor="middle" font-weight="bold" stroke="#000" stroke-width="0.18" >Netrin4</text>
<rect x="391.00" y="503.00" width="15.00" height="1.00" fill="#000"/>
<text x="398.40" y="512.32" font-size="8.5" text-anchor="middle" font-weight="bold" stroke="#000" stroke-width="0.18" >FGF-2</text>
<rect x="417.50" y="503.00" width="13.50" height="1.00" fill="#000"/>
<text x="424.80" y="512.32" font-size="8.5" text-anchor="middle" font-weight="bold" stroke="#000" stroke-width="0.18" >VA</text>
<rect x="443.00" y="503.00" width="13.00" height="1.00" fill="#000"/>
<text x="450.50" y="512.32" font-size="8.5" text-anchor="middle" font-weight="bold" stroke="#000" stroke-width="0.18" >VC</text>
<rect x="467.00" y="503.00" width="14.00" height="1.00" fill="#000"/>
<text x="475.00" y="512.32" font-size="8.5" text-anchor="middle" font-weight="bold" stroke="#000" stroke-width="0.18" >CM</text>
</svg>
</body>
</html>
